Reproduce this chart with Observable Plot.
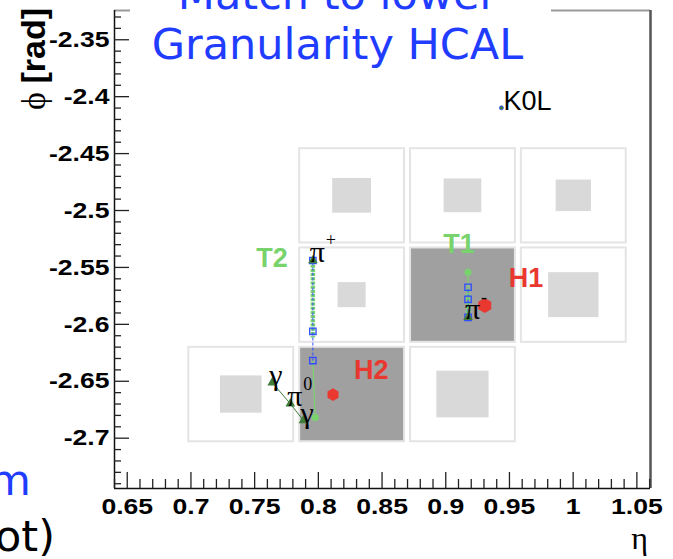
<!DOCTYPE html>
<html>
<head>
<meta charset="utf-8">
<script src="https://cdn.jsdelivr.net/npm/d3@7"></script>
<script src="https://cdn.jsdelivr.net/npm/@observablehq/plot@0.6"></script>
<style>
  body { margin: 0; background: #fff; }
  #wrap { position: relative; width: 673px; height: 559px; overflow: hidden; background: #fff; }
  #wrap svg { position: absolute; left: 0; top: 0; }
  .title {
    position: absolute; left: 130px; top: -31px; width: 415px; padding-right: 6px; height: 100px;
    background: #fff; color: #1f3cff; font: 43px "DejaVu Sans", sans-serif;
    line-height: 50px; text-align: center; white-space: nowrap;
  }
  .frag { position: absolute; width: 300px; text-align: right; font: 43px "DejaVu Sans", sans-serif; line-height: 50px; white-space: nowrap; }
</style>
</head>
<body>
<div id="wrap">
  <div id="chart"></div>
  <div class="title">Match to lower<br>Granularity HCAL</div>
  <div class="frag" style="left:-269px; top:455px; color:#1f3cff;">m</div>
  <div class="frag" style="left:-245px; top:511px; color:#000;">ot)</div>
</div>
<script>
// Axis ranges (η horizontally, φ vertically)
const etaDomain = [0.640, 1.0607];
const phiDomain = [-2.7442, -2.3243];

const xTicks = [0.65, 0.7, 0.75, 0.8, 0.85, 0.9, 0.95, 1, 1.05];
const xTickLabels = ["0.65", "0.7", "0.75", "0.8", "0.85", "0.9", "0.95", "1", "1.05"];
const yTicks = [-2.35, -2.4, -2.45, -2.5, -2.55, -2.6, -2.65, -2.7];
const yTickLabels = ["-2.35", "-2.4", "-2.45", "-2.5", "-2.55", "-2.6", "-2.65", "-2.7"];

// HCAL tower grid (0.087 × 0.087 in η–φ)
const etaEdges = [0.696, 0.783, 0.870, 0.957, 1.044];
const phiEdges = [-2.4435, -2.5307, -2.6180, -2.7053];
const towerEtaBin = [1, 2, 3, 1, 2, 3, 0, 1, 2];
const towerPhiBin = [0, 0, 0, 1, 1, 1, 2, 2, 2];
const towerMatched = [false, false, false, false, true, false, false, true, false];
// ECAL deposit box side inside each tower (η/φ units)
const ecalSize = [0.0305, 0.0296, 0.0277, 0.022, 0, 0.0395, 0.0327, 0, 0.041];

// Reconstructed tracks: η, hit φ positions, thick segment, calorimeter entry point
const trackName = ["T1", "T2"];
const trackEta = [0.9175, 0.7957];
const trackHitPhi = [[-2.5938, -2.5780, -2.5674], [-2.5439, -2.6061, -2.6318]];
const trackSegPhi = [[-2.5938, -2.5674], [-2.5439, -2.6115]];
const trackCaloEta = [0.9175, 0.7975];
const trackCaloPhi = [-2.5542, -2.6819];

// HCAL clusters
const clusterName = ["H1", "H2"];
const clusterEta = [0.9306, 0.8115];
const clusterPhi = [-2.5835, -2.6617];

// Generated particles
const genSymbol = ["π", "π", "π", "γ", "γ"];
const genCharge = ["+", "-", "0", "", ""];
const genEta = [0.7957, 0.9175, 0.7780, 0.7638, 0.7883];
const genPhi = [-2.5439, -2.5938, -2.6697, -2.6512, -2.6845];
const neutralName = ["K0L"];
const neutralEta = [0.9437];
const neutralPhi = [-2.4098];
// π0 → γγ decay links (indices into the generated particles)
const decayFrom = [2, 2];
const decayTo = [3, 4];

// ---- derived tables ----
const towers = towerEtaBin.map((e, i) => ({
  eta1: etaEdges[e], eta2: etaEdges[e + 1],
  phi1: phiEdges[towerPhiBin[i]], phi2: phiEdges[towerPhiBin[i] + 1],
  matched: towerMatched[i], ecal: ecalSize[i]
}));
const deposits = towers.filter(d => d.ecal > 0);
const hits = trackHitPhi.flatMap((p, i) => p.map(phi => ({eta: trackEta[i], phi})));
const segs = trackSegPhi.map((p, i) => ({eta: trackEta[i], phi1: p[0], phi2: p[1]}));
const tails = trackName.map((n, i) => {
  const hp = trackHitPhi[i];
  // from the hit closest to the calorimeter to the calorimeter entry point
  const near = hp.reduce((a, b) => Math.abs(b - trackCaloPhi[i]) < Math.abs(a - trackCaloPhi[i]) ? b : a);
  return {eta1: trackEta[i], phi1: near, eta2: trackCaloEta[i], phi2: trackCaloPhi[i]};
});
const hitSpans = trackHitPhi.map((p, i) => ({eta: trackEta[i], phi1: d3.min(p), phi2: d3.max(p)}));
const gen = genSymbol.map((s, i) => ({s, q: genCharge[i], eta: genEta[i], phi: genPhi[i]}));
const decays = decayFrom.map((f, i) => ({eta1: genEta[f], phi1: genPhi[f], eta2: genEta[decayTo[i]], phi2: genPhi[decayTo[i]]}));
const neutrals = neutralName.map((s, i) => ({s, eta: neutralEta[i], phi: neutralPhi[i]}));
const clusters = clusterName.map((s, i) => ({s, eta: clusterEta[i], phi: clusterPhi[i]}));
const tracks = trackName.map((s, i) => ({s, eta: trackEta[i], phi: trackHitPhi[i][0], ceta: trackCaloEta[i], cphi: trackCaloPhi[i]}));
const h1 = clusters.filter(d => d.s === "H1"), h2 = clusters.filter(d => d.s === "H2");

const W = 673, H = 559;
const mL = 114, mR = 23, mT = 10, mB = 71;
const frameW = W - mL - mR, frameH = H - mT - mB;

const xMinor = d3.range(64, 107).map(v => v / 100);
const yMinor = d3.range(-274, -232).map(v => v / 100);

const green = "#78d36c", darkGreen = "#3f7d3a", blue = "#2f4dff", red = "#e8382f";
const sans = "Liberation Sans, Arial, sans-serif";
const serif = "Liberation Serif, DejaVu Serif, serif";
const labelFont = {fontFamily: sans, fontWeight: "bold", fontSize: 27, lineAnchor: "middle"};

const chart = Plot.plot({
  width: W, height: H,
  marginLeft: mL, marginRight: mR, marginTop: mT, marginBottom: mB,
  x: {domain: etaDomain},
  y: {domain: phiDomain},
  style: {background: "#fff", fontFamily: sans, overflow: "visible"},
  marks: [
    // towers and ECAL deposits
    Plot.rect(towers, {x1: "eta1", x2: "eta2", y1: "phi2", y2: "phi1",
      fill: d => d.matched ? "#a0a0a0" : "#fff", stroke: "#e4e4e4", strokeWidth: 2,
      insetLeft: 3, insetRight: 3, insetTop: 2.5, insetBottom: 2.5}),
    Plot.rect(deposits, {
      x1: d => (d.eta1 + d.eta2) / 2 - d.ecal / 2, x2: d => (d.eta1 + d.eta2) / 2 + d.ecal / 2,
      y1: d => (d.phi1 + d.phi2) / 2 - d.ecal / 2, y2: d => (d.phi1 + d.phi2) / 2 + d.ecal / 2,
      fill: "#d9d9d9"}),
    // tracks
    Plot.link(tails, {x1: "eta1", y1: "phi1", x2: "eta2", y2: "phi2", stroke: green, strokeWidth: 1.2}),
    Plot.link(segs, {x1: "eta", x2: "eta", y1: "phi1", y2: "phi2", stroke: green, strokeWidth: 4.5, strokeDasharray: "3,1.2"}),
    Plot.link(hitSpans, {x1: "eta", x2: "eta", y1: "phi1", y2: "phi2", stroke: blue, strokeWidth: 1, strokeDasharray: "3,2"}),
    Plot.dot(hits, {x: "eta", y: "phi", symbol: "square", r: 3.6, stroke: blue, strokeWidth: 1.3, fill: "none"}),
    Plot.dot(tracks, {x: "ceta", y: "cphi", r: 3.5, fill: green}),
    // π0 decay
    Plot.link(decays, {x1: "eta1", y1: "phi1", x2: "eta2", y2: "phi2", stroke: darkGreen, strokeWidth: 1}),
    // HCAL clusters
    Plot.dot(h1, {x: "eta", y: "phi", symbol: "hexagon", r: 6.5, fill: red}),
    Plot.dot(h2, {x: "eta", y: "phi", symbol: "hexagon", r: 5.5, fill: red}),
    // generated particles
    Plot.dot(gen, {x: "eta", y: "phi", symbol: "triangle", r: 3.6, fill: darkGreen}),
    Plot.dot(neutrals, {x: "eta", y: "phi", r: 2, fill: darkGreen, stroke: blue, strokeWidth: 0.8}),
    Plot.text(gen, {x: "eta", y: "phi", text: "s", textAnchor: "start", lineAnchor: "bottom",
      dx: -3, dy: 2, fontFamily: serif, fontSize: 30, fill: "#000"}),
    Plot.text(gen, {x: "eta", y: "phi", text: "q", textAnchor: "start", lineAnchor: "bottom",
      dx: 13, dy: -14, fontFamily: serif, fontSize: 18, fill: "#000"}),
    Plot.text(neutrals, {x: "eta", y: "phi", text: "s", textAnchor: "start", lineAnchor: "bottom",
      dx: 2, dy: 2, fontFamily: sans, fontSize: 27, fill: "#000"}),
    // track / cluster labels
    Plot.text(tracks.filter(d => d.s === "T1"), {x: "ceta", y: "cphi", text: "s", textAnchor: "middle",
      dx: -9, dy: -28, fill: green, ...labelFont}),
    Plot.text(tracks.filter(d => d.s === "T2"), {x: "eta", y: "phi", text: "s", textAnchor: "end",
      dx: -25, dy: -2, fill: green, ...labelFont}),
    Plot.text(h1, {x: "eta", y: "phi", text: "s", textAnchor: "start",
      dx: 24, dy: -27, fill: red, ...labelFont}),
    Plot.text(h2, {x: "eta", y: "phi", text: "s", textAnchor: "start",
      dx: 21, dy: -24, fill: red, ...labelFont}),
    // frame
    Plot.ruleY([phiDomain[1]], {stroke: "#9a9a9a", strokeWidth: 2}),
    Plot.ruleX([etaDomain[1]], {stroke: "#555", strokeWidth: 2.5}),
    Plot.ruleX([etaDomain[0]], {stroke: "#111", strokeWidth: 1.5}),
    Plot.ruleY([phiDomain[0]], {stroke: "#111", strokeWidth: 1.5}),
    // inward ticks
    Plot.tickX(xTicks, {x: d => d, insetTop: frameH - 16, stroke: "#222", strokeWidth: 1.3}),
    Plot.tickX(xMinor.filter(v => !xTicks.some(t => Math.abs(t - v) < 1e-9)), {x: d => d, insetTop: frameH - 9, stroke: "#222", strokeWidth: 1.3}),
    Plot.tickY(yTicks, {y: d => d, insetRight: frameW - 15, stroke: "#222", strokeWidth: 1.3}),
    Plot.tickY(yMinor.filter(v => !yTicks.some(t => Math.abs(t - v) < 1e-9)), {y: d => d, insetRight: frameW - 7, stroke: "#222", strokeWidth: 1.3}),
    // tick labels
    Plot.axisX(xTicks, {tickSize: 0, tickPadding: 10, label: null,
      tickFormat: d => xTickLabels[xTicks.indexOf(d)], fontSize: 22.5, fontWeight: "bold", fontFamily: sans, fill: "#000"}),
    Plot.axisY(yTicks, {tickSize: 0, tickPadding: 5, label: null,
      tickFormat: d => yTickLabels[yTicks.indexOf(d)], fontSize: 22.5, fontWeight: "bold", fontFamily: sans, fill: "#000"})
  ]
});

document.getElementById("chart").appendChild(chart);
const svg = d3.select(chart);

// η axis title
svg.append("text").attr("x", 648).attr("y", 549).attr("text-anchor", "end")
  .attr("font-family", serif).attr("font-size", 32).text("η");

// φ axis title, vertical
const yt = svg.append("text").attr("transform", "translate(45,8) rotate(-90)").attr("text-anchor", "end");
yt.append("tspan").attr("font-family", serif).attr("font-size", 34).text("ϕ ");
yt.append("tspan").attr("font-family", sans).attr("font-weight", "bold").attr("font-size", 34).text("[rad]");

// wider tick-label glyphs
chart.querySelectorAll('g[aria-label$="tick label"] text').forEach(t => {
  const w = t.getComputedTextLength();
  t.setAttribute("textLength", (w * 1.18).toFixed(1));
  t.setAttribute("lengthAdjust", "spacingAndGlyphs");
});
</script>
</body>
</html>
